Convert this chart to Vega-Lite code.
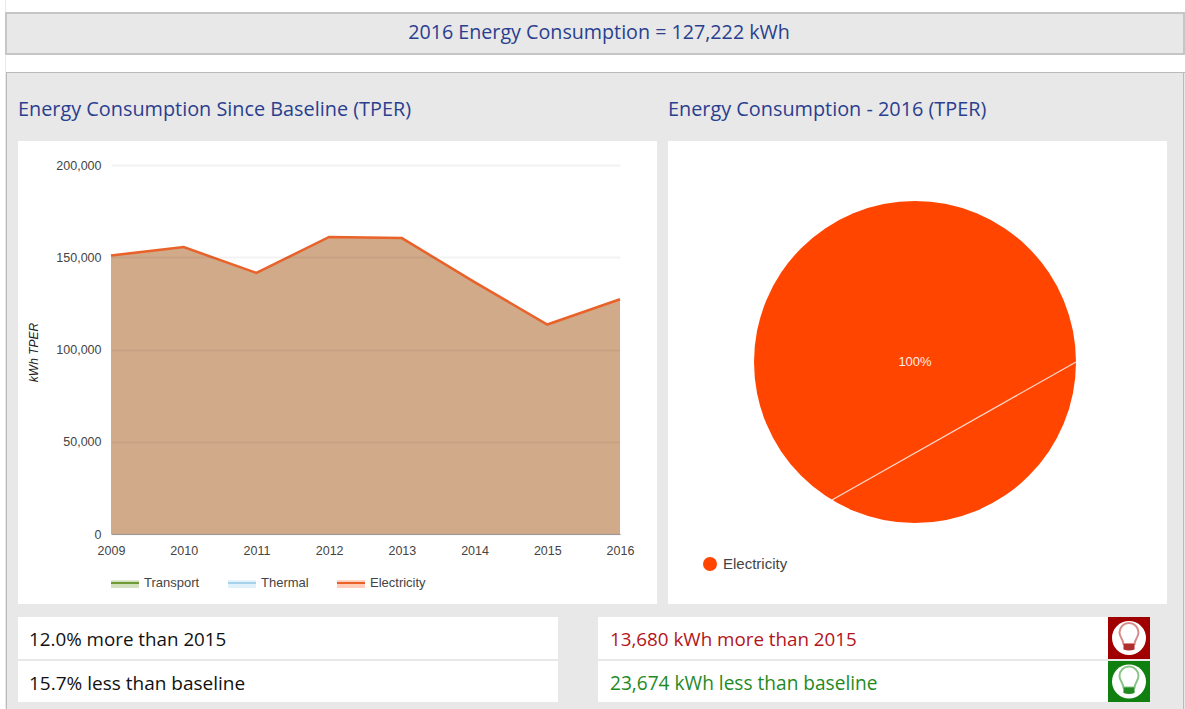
{
"$schema":"https://vega.github.io/schema/vega-lite/v6.json",
"background":"#e8e8e8","padding":0,"spacing":0,
"config":{"concat":{"spacing":0},"view":{"stroke":null}},
"hconcat":[
{"width":5,"height":709,"view":{"fill":"#ffffff","stroke":null},"data":{"values":[{"filler":1}]},"mark":{"type":"rect","color":"#ffffff"}},
{"spacing":0,"vconcat":[
 {"width":1179,"height":12,"view":{"fill":"#ffffff","stroke":null},"data":{"values":[{"filler":1}]},"mark":{"type":"rect","color":"#ffffff"}},
 {"width":1178,"height":41,"view":{"fill":"#e8e8e8","stroke":"#bbbbbb","strokeWidth":1.5},"data":{"values":[{"label":"2016 Energy Consumption = 127,222 kWh"}]},
  "mark":{"type":"text","font":"Open Sans","fontSize":19.7,"color":"#2a3f8f","dy":-1,"dx":4},"encoding":{"text":{"field":"label"}}},
 {"width":1179,"height":17,"view":{"fill":"#ffffff","stroke":null},"data":{"values":[{"filler":1}]},"mark":{"type":"rect","color":"#ffffff"}},
 {"width":1179,"height":1,"view":{"fill":"#bbbbbb","stroke":null},"data":{"values":[{"filler":1}]},"mark":{"type":"rect","color":"#bbbbbb"}},
 {"spacing":0,"hconcat":[
  {"width":1,"height":636,"view":{"fill":"#bbbbbb","stroke":null},"data":{"values":[{"filler":1}]},"mark":{"type":"rect","color":"#bbbbbb"}},
  {"width":11,"height":636,"view":{"fill":"#e8e8e8","stroke":null},"data":{"values":[{"filler":1}]},"mark":{"type":"rect","color":"#e8e8e8"}},
  {"spacing":0,"vconcat":[
   {"width":1149,"height":68,"view":{"fill":"#e8e8e8","stroke":null},
    "data":{"values":[{"label":"Energy Consumption Since Baseline (TPER)"},{"label":"Energy Consumption - 2016 (TPER)"}]},
    "mark":{"type":"text","align":"left","font":"Open Sans","fontSize":19.85,"color":"#2a3f8f","dy":3},
    "encoding":{"x":{"field":"label","type":"nominal","axis":null,"sort":null,"scale":{"domain":["Energy Consumption Since Baseline (TPER)","Energy Consumption - 2016 (TPER)"],"range":[0,650],"padding":0}},"text":{"field":"label"}}},
   {"spacing":11,"hconcat":[
    {"width":639,"height":463,"view":{"fill":"#ffffff","stroke":null},
     "data":{"values":[
      {"year":2009,"series":"Electricity","kwh":150896},{"year":2010,"series":"Electricity","kwh":155500},
      {"year":2011,"series":"Electricity","kwh":141500},{"year":2012,"series":"Electricity","kwh":161000},
      {"year":2013,"series":"Electricity","kwh":160400},{"year":2014,"series":"Electricity","kwh":136500},
      {"year":2015,"series":"Electricity","kwh":113542},{"year":2016,"series":"Electricity","kwh":127222}]},
     "layer":[
      {"mark":{"type":"area","color":"#d1aa8a","opacity":1},
       "encoding":{
        "x":{"field":"year","type":"quantitative","scale":{"domain":[2009,2016],"range":[93,602],"nice":false},
         "axis":{"title":null,"format":"d","values":[2009,2010,2011,2012,2013,2014,2015,2016],"grid":false,"ticks":false,"offset":-70,"labelFlush":false,"labelOverlap":false,"labelBound":false,"labelPadding":10,"labelFont":"Liberation Sans","labelFontSize":12.5,"labelColor":"#444444","domainColor":"#999999","zindex":1}},
        "y":{"field":"kwh","type":"quantitative","scale":{"domain":[0,200000],"range":[393,24],"nice":false},
         "axis":{"title":"kWh TPER","titleFont":"Liberation Sans","titleFontSize":12,"titleFontStyle":"italic","titleFontWeight":"normal","titleColor":"#222222","titleX":-71,"titleY":211,
          "format":",d","values":[0,50000,100000,150000,200000],"domain":false,"ticks":false,"offset":-93,"labelPadding":10,"labelFont":"Liberation Sans","labelFontSize":12.5,"labelColor":"#444444","grid":true,"gridColor":"#000000","gridOpacity":0.05,"gridWidth":2,"zindex":1}}}},
      {"mark":{"type":"point","filled":true,"opacity":0},
       "encoding":{
        "x":{"field":"year","type":"quantitative"},
        "y":{"field":"kwh","type":"quantitative"},
        "fill":{"field":"series","type":"nominal","scale":{"domain":["Transport","Thermal","Electricity"],"range":["#d3e0bd","#e0f1fa","#ffcdb9"]},
         "legend":{"orient":"none","legendX":92,"legendY":427,"direction":"horizontal","columns":3,"title":null,"symbolType":"M-1,-0.2H1V0.35H-1Z","symbolSize":784,"symbolOpacity":1,"symbolStrokeWidth":2,"symbolStrokeColor":"transparent","labelColor":"transparent","labelOffset":4,"columnPadding":24,"labelFont":"Liberation Sans","labelFontSize":13}}}},
      {"mark":{"type":"line","strokeWidth":2.5},
       "encoding":{
        "x":{"field":"year","type":"quantitative"},
        "y":{"field":"kwh","type":"quantitative"},
        "stroke":{"field":"series","type":"nominal","scale":{"domain":["Electricity","Thermal","Transport"],"range":["#e8622a","#a6d2ec","#6f9a35"]},
         "legend":{"orient":"none","legendX":92,"legendY":427,"direction":"horizontal","columns":3,"title":null,"values":["Transport","Thermal","Electricity"],"symbolType":"M-1,0H1","symbolSize":784,"symbolStrokeWidth":2,"labelOffset":4,"columnPadding":24,"labelFont":"Liberation Sans","labelFontSize":13,"labelColor":"#444444"}}}}
     ],
     "resolve":{"scale":{"fill":"independent","stroke":"independent"}}},
    {"width":499,"height":463,"view":{"fill":"#ffffff","stroke":null},
     "layer":[
      {"data":{"values":[{"source":"Electricity","share":100}]},
       "mark":{"type":"arc","radius":161},
       "encoding":{
        "theta":{"field":"share","type":"quantitative"},
        "x":{"datum":0,"type":"quantitative","axis":null,"scale":{"domain":[-1,1],"range":[86,408],"nice":false}},
        "y":{"datum":0,"type":"quantitative","axis":null,"scale":{"domain":[-1,1],"range":[382,60],"nice":false}},
        "color":{"field":"source","type":"nominal","scale":{"domain":["Electricity"],"range":["#ff4500"]},
         "legend":{"orient":"none","legendX":702,"legendY":556,"title":null,"symbolType":"circle","symbolSize":196,"labelOffset":5,"labelFont":"Liberation Sans","labelFontSize":15,"labelColor":"#444444"}}}},
      {"data":{"values":[{"px":1,"py":0},{"px":-0.516,"py":-0.857}]},
       "mark":{"type":"line","stroke":"#ffffff","strokeWidth":1.2,"opacity":0.8},
       "encoding":{"x":{"field":"px","type":"quantitative"},"y":{"field":"py","type":"quantitative"}}},
      {"data":{"values":[{"pct":"100%"}]},
       "mark":{"type":"text","font":"Liberation Sans","fontSize":13,"color":"#ffffff","opacity":0.9},
       "encoding":{"x":{"datum":0,"type":"quantitative"},"y":{"datum":0,"type":"quantitative"},"text":{"field":"pct"}}}
     ]}
   ]},
   {"width":1149,"height":13,"view":{"fill":"#e8e8e8","stroke":null},"data":{"values":[{"filler":1}]},"mark":{"type":"rect","color":"#e8e8e8"}},
   {"spacing":40,"hconcat":[
    {"spacing":2,"vconcat":[
     {"width":540,"height":42,"view":{"fill":"#ffffff","stroke":null},"data":{"values":[{"label":"12.0% more than 2015"}]},
      "mark":{"type":"text","align":"left","font":"Open Sans","fontSize":18.8,"color":"#111111","dy":2},
      "encoding":{"x":{"datum":0,"type":"quantitative","axis":null,"scale":{"domain":[0,1],"range":[11,540]}},"text":{"field":"label"}}},
     {"width":540,"height":41,"view":{"fill":"#ffffff","stroke":null},"data":{"values":[{"label":"15.7% less than baseline"}]},
      "mark":{"type":"text","align":"left","font":"Open Sans","fontSize":19,"color":"#111111","dy":2},
      "encoding":{"x":{"datum":0,"type":"quantitative","axis":null,"scale":{"domain":[0,1],"range":[11,540]}},"text":{"field":"label"}}}
    ]},
    {"spacing":0,"hconcat":[
     {"spacing":2,"vconcat":[
      {"width":510,"height":42,"view":{"fill":"#ffffff","stroke":null},"data":{"values":[{"label":"13,680 kWh more than 2015"}]},
       "mark":{"type":"text","align":"left","font":"Open Sans","fontSize":18.8,"color":"#b3141c","dy":2},
       "encoding":{"x":{"datum":0,"type":"quantitative","axis":null,"scale":{"domain":[0,1],"range":[12,510]}},"text":{"field":"label"}}},
      {"width":510,"height":41,"view":{"fill":"#ffffff","stroke":null},"data":{"values":[{"label":"23,674 kWh less than baseline"}]},
       "mark":{"type":"text","align":"left","font":"Open Sans","fontSize":19.1,"color":"#1f8a1f","dy":2},
       "encoding":{"x":{"datum":0,"type":"quantitative","axis":null,"scale":{"domain":[0,1],"range":[12,510]}},"text":{"field":"label"}}}
     ]},
     {"spacing":2,"vconcat":[
      {"width":42,"height":42,"view":{"fill":"#a00000","stroke":null},"data":{"values":[{"status":"worse"}]},
       "layer":[
        {"mark":{"type":"point","shape":"circle","size":1156,"filled":true,"color":"#ffffff","opacity":1}},
        {"mark":{"type":"point","size":1000,"filled":false,"stroke":"#d98a8a","strokeWidth":2,"opacity":1,"shape":"M-0.35,0.38C-0.35,0.1,-0.6,-0.05,-0.6,-0.35A0.6,0.6,0,1,1,0.6,-0.35C0.6,-0.05,0.35,0.1,0.35,0.38Z"}},
        {"mark":{"type":"point","size":1000,"filled":true,"color":"#b03030","opacity":1,"shape":"M-0.35,0.38H0.35V0.72Q0,0.85,-0.35,0.72Z"}}
       ]},
      {"width":42,"height":41,"view":{"fill":"#0f7f0f","stroke":null},"data":{"values":[{"status":"better"}]},
       "layer":[
        {"mark":{"type":"point","shape":"circle","size":1156,"filled":true,"color":"#ffffff","opacity":1}},
        {"mark":{"type":"point","size":1000,"filled":false,"stroke":"#8ac48a","strokeWidth":2,"opacity":1,"shape":"M-0.35,0.38C-0.35,0.1,-0.6,-0.05,-0.6,-0.35A0.6,0.6,0,1,1,0.6,-0.35C0.6,-0.05,0.35,0.1,0.35,0.38Z"}},
        {"mark":{"type":"point","size":1000,"filled":true,"color":"#1f8a1f","opacity":1,"shape":"M-0.35,0.38H0.35V0.72Q0,0.85,-0.35,0.72Z"}}
       ]}
     ]}
    ]}
   ]},
   {"width":1149,"height":7,"view":{"fill":"#e8e8e8","stroke":null},"data":{"values":[{"filler":1}]},"mark":{"type":"rect","color":"#e8e8e8"}}
  ]},
  {"width":16,"height":636,"view":{"fill":"#e8e8e8","stroke":null},"data":{"values":[{"filler":1}]},"mark":{"type":"rect","color":"#e8e8e8"}},
  {"width":1,"height":636,"view":{"fill":"#bbbbbb","stroke":null},"data":{"values":[{"filler":1}]},"mark":{"type":"rect","color":"#bbbbbb"}}
 ]}
]}
]}
